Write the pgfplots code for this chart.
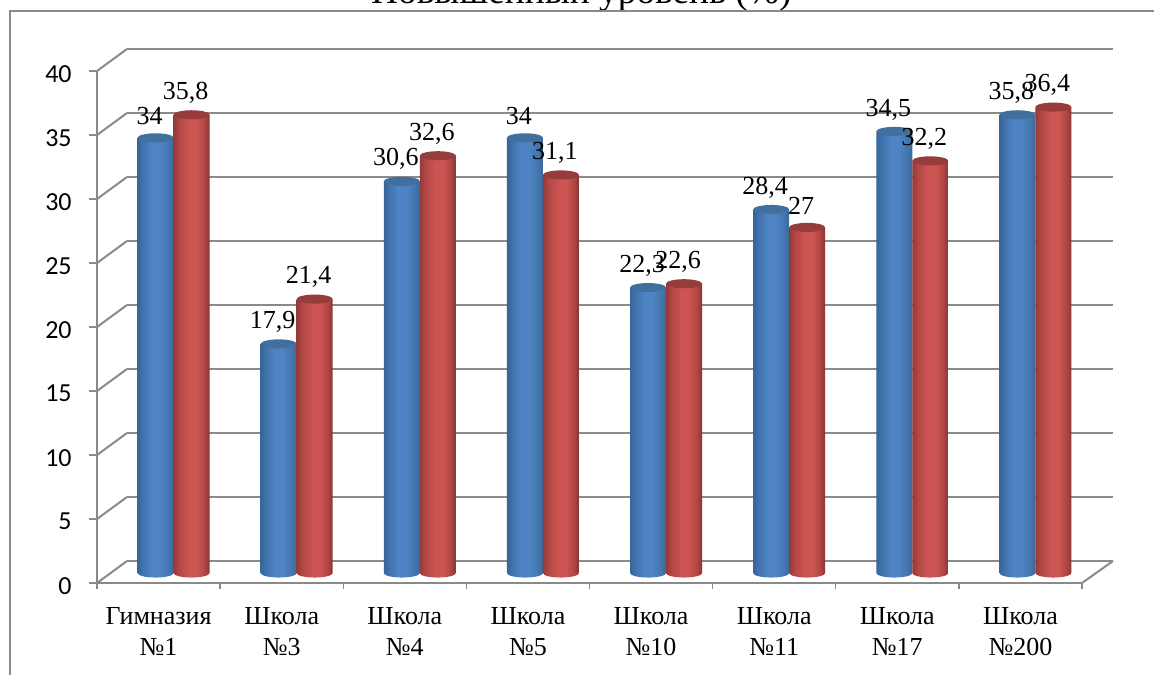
\documentclass[border=0pt]{standalone}
\usepackage{fontspec}
\setmainfont{Liberation Serif}
\newfontfamily\calibri{Carlito}
\usepackage{pgfplots}
\usepackage{pgfplotstable}
\pgfplotsset{compat=1.18}

% reference pixels -> pt: 1px = 0.75pt
\definecolor{gridgray}{HTML}{8A8A8A}
\definecolor{bluetop}{HTML}{41709F}
\definecolor{redtop}{HTML}{963C3A}
\definecolor{ba}{HTML}{37649A}
\definecolor{bb}{HTML}{4274AE}
\definecolor{bc}{HTML}{4F84C4}
\definecolor{bd}{HTML}{4475AE}
\definecolor{be}{HTML}{3B6899}
\definecolor{ra}{HTML}{943A38}
\definecolor{rb}{HTML}{B34846}
\definecolor{rc}{HTML}{CC5552}
\definecolor{rd}{HTML}{B04644}
\definecolor{re}{HTML}{883634}
\pgfdeclarehorizontalshading{cylblue}{100bp}{
  color(0bp)=(ba); color(25bp)=(ba); color(33bp)=(bb);
  color(45bp)=(bc); color(55bp)=(bc); color(68bp)=(bd);
  color(75bp)=(be); color(100bp)=(be)}
\pgfdeclarehorizontalshading{cylred}{100bp}{
  color(0bp)=(ra); color(25bp)=(ra); color(33bp)=(rb);
  color(47bp)=(rc); color(57bp)=(rc); color(68bp)=(rd);
  color(75bp)=(re); color(100bp)=(re)}

% a cylinder hanging down from the data point; 1 unit = 9.6pt
\newcommand\cylinder[2]{%
  \pgfmathsetlengthmacro\barh{\barval*9.6pt}%
  \begin{scope}[yslant=0.07]
  \shade[shading=#1,draw=none] (-13.5pt,0pt) -- (-13.5pt,-\barh) arc (180:360:13.5pt and 3.4pt) -- (13.5pt,0pt) -- cycle;
  \fill[#2,draw=none] (0pt,0pt) ellipse (13.5pt and 3.4pt);
  \end{scope}}
\pgfdeclareplotmark{cylb}{\cylinder{cylblue}{bluetop}}
\pgfdeclareplotmark{cylr}{\cylinder{cylred}{redtop}}

\pgfplotstableread{
idx blue red
0 34.0 35.8
1 17.9 21.4
2 30.6 32.6
3 34.0 31.1
4 22.3 22.6
5 28.4 27.0
6 34.5 32.2
7 35.8 36.4
}\schools

\pgfplotsset{
  chart/.style={
    scale only axis,width=738.75pt,height=384pt,
    xmin=-0.5,xmax=7.5,ymin=0,ymax=40,
    anchor=south west,clip=false
  },
  vals/.style={
    only marks,scatter,scatter src=y,
    scatter/use mapped color={draw=none,fill=none},
    mark options={draw=none},
    nodes near coords,
    every node near coord/.style={anchor=center,xshift=-4.5pt,yshift=16.5pt,text=black,
      font=\fontsize{19.5}{22}\selectfont},
    /pgf/number format/fixed,/pgf/number format/use comma,
    /pgf/number format/precision=1,/pgf/number format/assume math mode=true
  }
}

\begin{document}
\begin{tikzpicture}
\useasboundingbox (0,0) rectangle (865.5pt,-506.25pt);
\node[anchor=base,font=\fontsize{28}{30}\selectfont] at (436pt,-2.5pt) {Повышенный уровень (\%)};
% chart frame
\draw[gridgray,line width=1.1pt] (7.5pt,-506.25pt) -- (7.5pt,-8.2pt) -- (865.5pt,-8.2pt);

% back wall
\begin{axis}[chart,at={(95.25pt,-420.75pt)},width=739.5pt,
  axis line style={draw=none},xtick=\empty,ytick={0,5,...,40},yticklabels={},
  major tick length=0pt,ymajorgrids,
  grid style={gridgray,line width=1.5pt}]
\addplot[draw=none] coordinates {(0,0)};
\end{axis}

% side wall and floor edges
\begin{scope}[x=0.75pt,y=-0.75pt,gridgray,line width=1.5pt]
\foreach \k in {0,...,8} \draw (97,{583-64*\k}) -- (127,{561-64*\k});
\draw (1082,583) -- (1113,561);
\end{scope}

% front axis with ticks and labels
\begin{axis}[chart,at={(72.75pt,-437.25pt)},
  axis x line*=bottom,axis y line*=left,
  axis line style={gridgray,line width=1.5pt},
  tick align=outside,
  xtick={0,...,7},
  xticklabels={{Гимназия\\№1},{Школа\\№3},{Школа\\№4},{Школа\\№5},{Школа\\№10},{Школа\\№11},{Школа\\№17},{Школа\\№200}},
  minor xtick={-0.5,0.5,...,7.5},
  ytick={0,5,...,40},
  major tick length=6pt,minor tick length=4.5pt,
  major x tick style={draw=none},
  tick style={gridgray,line width=1.1pt},
  x tick label style={align=center,font=\fontsize{19.5}{23}\selectfont,yshift=-9pt},
  y tick label style={font=\calibri\fontsize{19.5}{22}\selectfont,xshift=-9.5pt,yshift=-2pt},
  /pgf/number format/assume math mode=true]
\addplot[draw=none] coordinates {(0,0)};
\end{axis}

% cylinders, standing in the middle of the floor
\begin{axis}[chart,at={(84pt,-429.75pt)},hide axis]
\addplot[vals,mark=cylb,visualization depends on={\thisrow{blue} \as \barval}]
  table[x expr=\thisrow{idx}-0.146,y=blue] {\schools};
\addplot[vals,mark=cylr,visualization depends on={\thisrow{red} \as \barval}]
  table[x expr=\thisrow{idx}+0.146,y=red] {\schools};
\end{axis}
\end{tikzpicture}
\end{document}
